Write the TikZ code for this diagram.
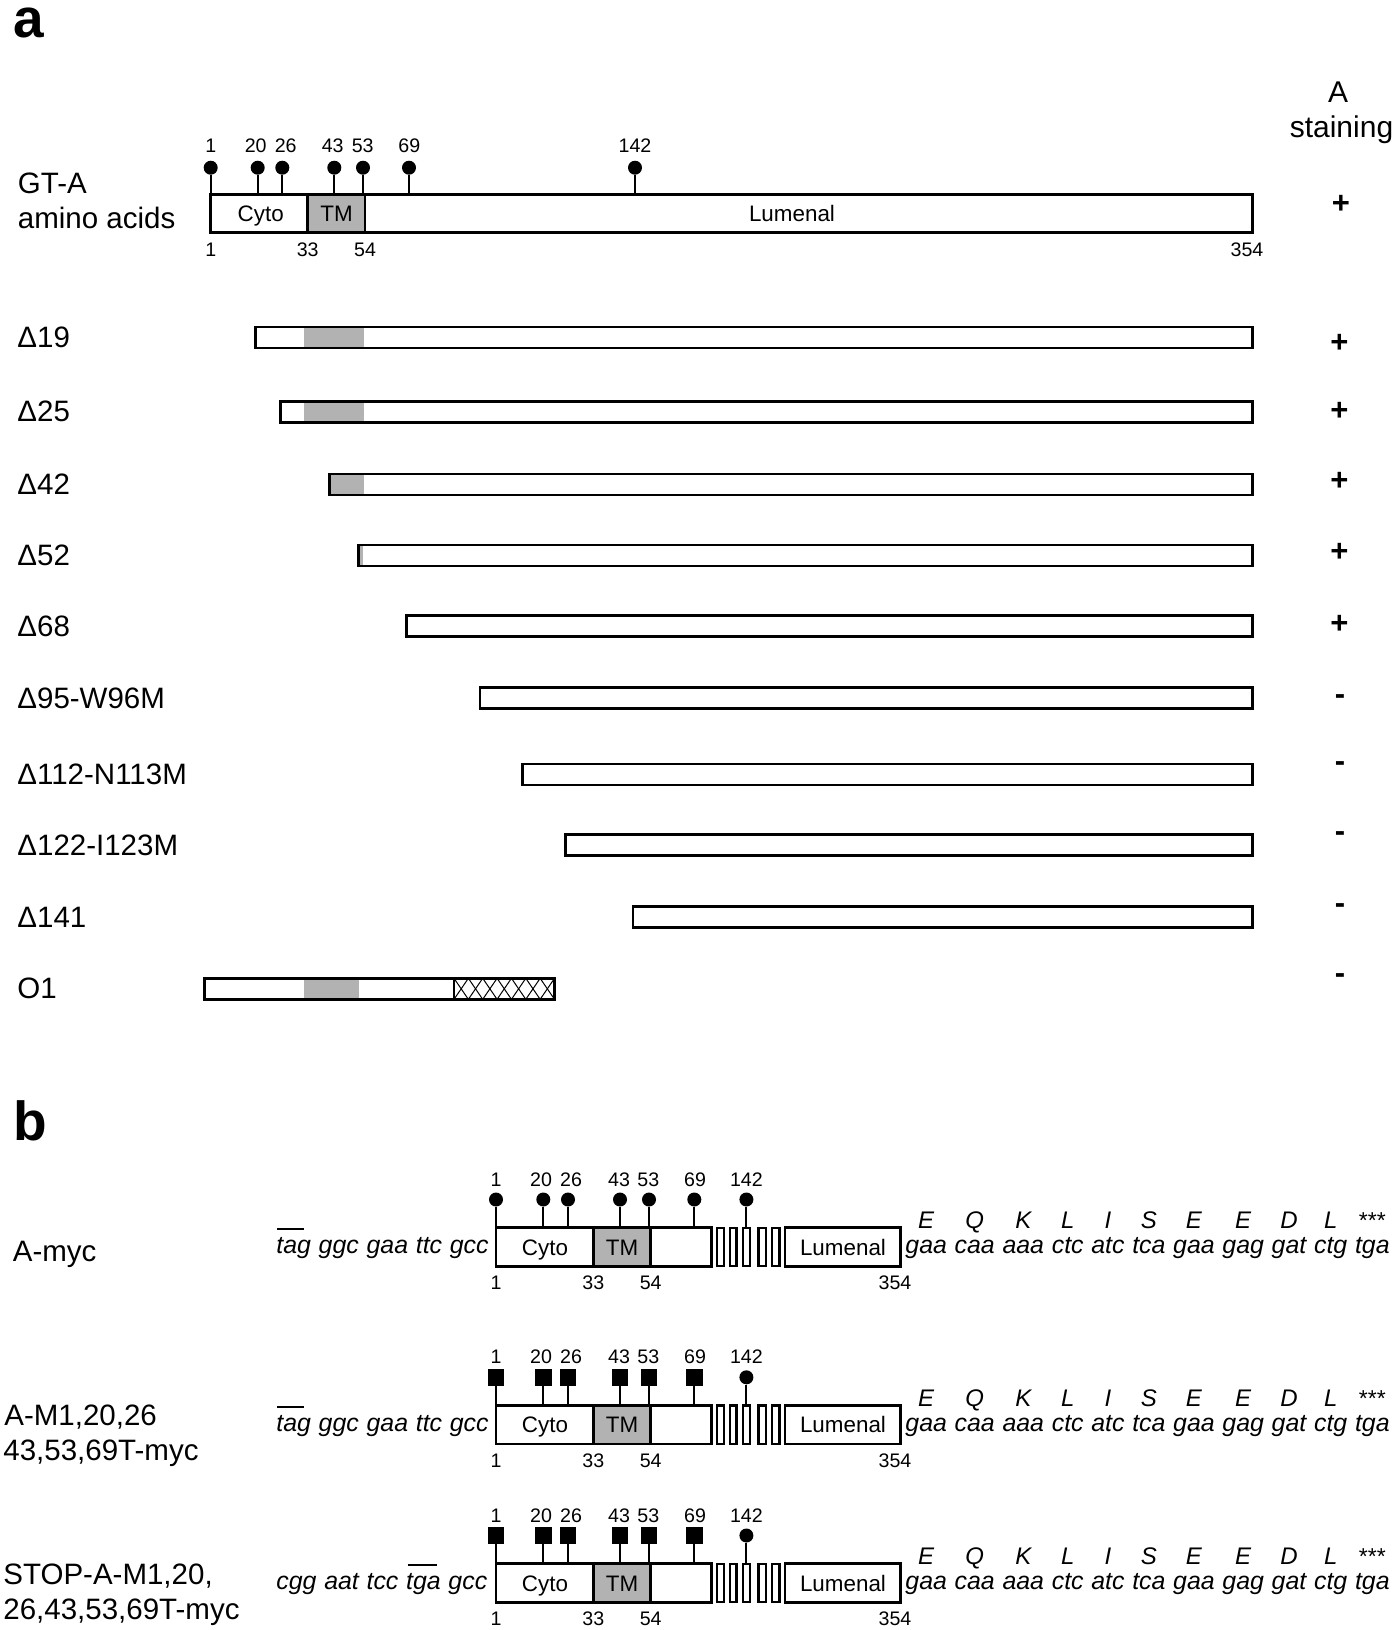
\documentclass[tikz,border=0pt]{standalone}
\usepackage{fontspec}
\setmainfont{Liberation Sans}
\tikzset{
  boxline/.style={draw=black, line width=1.35pt},
  smallbox/.style={draw=black, line width=1.2pt, fill=white},
  dbar/.style={draw=black, line width=1.25pt},
  tmfill/.style={fill=black!30},
  stemline/.style={line width=1pt},
  ball/.style={circle, fill=black, inner sep=0pt, minimum size=7pt},
  sq/.style={rectangle, fill=black, inner sep=0pt, minimum size=8.25pt},
  numlab/.style={inner sep=0pt, anchor=base, font=\fontsize{9.8}{11}\selectfont},
  domlab/.style={inner sep=0pt, anchor=base, font=\fontsize{11.2}{13}\selectfont},
  rowlab/.style={inner sep=0pt, anchor=base west, font=\fontsize{14.75}{17}\selectfont},
  codon/.style={inner sep=0pt, anchor=base west, font=\fontsize{12.45}{15}\selectfont\itshape},
  aalab/.style={inner sep=0pt, anchor=base, font=\fontsize{12}{14}\selectfont\itshape},
  aastop/.style={inner sep=0pt, anchor=base, font=\fontsize{11.5}{13}\selectfont},
  signlab/.style={inner sep=0pt, font=\fontsize{15.5}{17}\selectfont\bfseries},
  panellab/.style={inner sep=0pt, anchor=base west, font=\fontsize{27.5}{30}\selectfont\bfseries},
  ovl/.style={line width=1.3pt},
}
% panel b construct: #1 prefix, #2 centre y, #3 head style
\newcommand{\bConstruct}[3]{%
  \fill[white] (496,#2-19.2) rectangle (711.7,#2+19.2);
  \fill[tmfill] (593.3,#2-19.2) rectangle (650.7,#2+19.2);
  \draw[boxline] (496,#2-19.2) rectangle (711.7,#2+19.2);
  \draw[boxline] (593.3,#2-19.2) -- (593.3,#2+19.2) (650.7,#2-19.2) -- (650.7,#2+19.2);
  \foreach \xa/\xb in {716.8/724, 729.8/736.6, 742.8/750, 758.4/766.2, 771.8/779.6}
    \draw[smallbox] (\xa,#2-19.2) rectangle (\xb,#2+19.2);
  \draw[boxline, fill=white] (785,#2-19.2) rectangle (900.8,#2+19.2);
  \foreach \n/\x/\xt [count=\i] in {1/496/496, 20/543.3/541, 26/568/571, 43/620/619, 53/649/648.3, 69/694.3/695} {
    \node[#3] (#1h\i) at (\x,#2-47.5) {};
    \coordinate (#1b\i) at (\x,#2-19.2);
    \draw[stemline] (#1h\i) -- (#1b\i);
    \node[numlab] (#1t\i) at (\xt,#2-61) {\n};
  }
  \node[ball] (#1h7) at (746.4,#2-47.5) {};
  \coordinate (#1b7) at (746.4,#2-19.2);
  \draw[stemline] (#1h7) -- (#1b7);
  \node[numlab] (#1t7) at (746.4,#2-61) {142};
  \node[domlab] (#1cyto) at (545,#2+8) {Cyto};
  \node[domlab] (#1tm) at (622,#2+8) {TM};
  \node[domlab] (#1lum) at (843,#2+8) {Lumenal};
  \node[numlab] (#1n1) at (496,#2+42.4) {1};
  \node[numlab] (#1n2) at (593.3,#2+42.4) {33};
  \node[numlab] (#1n3) at (650.7,#2+42.4) {54};
  \node[numlab] (#1n4) at (895,#2+42.4) {354};
  % myc tag codons
  \node[codon] (#1c1) at (905,#2+6.6) {gaa};
  \foreach \cod [count=\i from 2, remember=\i as \j (initially 1)] in {caa,aaa,ctc,atc,tca,gaa,gag,gat,ctg,tga}
    \node[codon] (#1c\i) at ([xshift=3.46pt]#1c\j.base east) {\cod};
  \foreach \aa [count=\i] in {E,Q,K,L,I,S,E,E,D,L}
    \node[aalab] (#1a\i) at ([yshift=12.55pt]#1c\i.base) {\aa};
  \node[aastop] (#1a11) at ([yshift=12.55pt]#1c11.base) {***};
}
% left sequence: #1 prefix, #2 centre y, #3..#7 words
\newcommand{\bSeq}[7]{%
  \node[codon] (#1s1) at (276,#2+6.6) {#3};
  \node[codon] (#1s2) at ([xshift=3.46pt]#1s1.base east) {#4};
  \node[codon] (#1s3) at ([xshift=3.46pt]#1s2.base east) {#5};
  \node[codon] (#1s4) at ([xshift=3.46pt]#1s3.base east) {#6};
  \node[codon] (#1s5) at ([xshift=3.46pt]#1s4.base east) {#7};
}
\begin{document}
\begin{tikzpicture}[x=0.5pt, y=-0.5pt]
\useasboundingbox (0,0) rectangle (1395,1630);
\fill[white] (0,0) rectangle (1395,1630);

% ================= panel a =================
\node[panellab] (pa) at (13,37) {a};
\node[inner sep=0pt, anchor=base, font=\fontsize{15}{17}\selectfont] (hA) at (1338,102) {A};
\node[inner sep=0pt, anchor=base, font=\fontsize{15}{17}\selectfont] (hst) at (1341.5,137) {staining};

\node[rowlab] (gta1) at (17.5,193) {GT-A};
\node[rowlab] (gta2) at (17.5,228) {amino acids};

% main bar
\fill[white] (210.7,194.7) rectangle (1252.5,232.7);
\fill[tmfill] (307.7,194.7) rectangle (365,232.7);
\draw[boxline] (210.7,194.7) rectangle (1252.5,232.7);
\draw[boxline] (307.7,194.7) -- (307.7,232.7) (365,194.7) -- (365,232.7);
\foreach \n/\x/\xt [count=\i] in {1/210.7/210.7, 20/257.7/255.7, 26/282.3/285.7, 43/334.3/332.7, 53/363/362.7, 69/409/409.3, 142/635/635} {
  \node[ball] (ah\i) at (\x,167.7) {};
  \coordinate (ab\i) at (\x,194.7);
  \draw[stemline] (ah\i) -- (ab\i);
  \node[numlab] (at\i) at (\xt,152.9) {\n};
}
\node[domlab] (acyto) at (260.7,221.7) {Cyto};
\node[domlab] (atm) at (336.5,221.7) {TM};
\node[domlab] (alum) at (792,221.7) {Lumenal};
\node[numlab] (an1) at (210.7,256.1) {1};
\node[numlab] (an2) at (307.7,256.1) {33};
\node[numlab] (an3) at (365,256.1) {54};
\node[numlab] (an4) at (1247,256.1) {354};
\node[signlab] (s0) at (1341,204) {+};

% deletion bars
\foreach \lab/\yc/\xl [count=\i] in {
  Δ19/337.5/255.4, Δ25/411.8/280.4, Δ42/484.7/329.5, Δ52/555.5/358.5,
  Δ68/626/406.7, Δ95-W96M/698/480, Δ112-N113M/774.7/522.3,
  Δ122-I123M/845/565.6, Δ141/917.2/633} {
  \node[rowlab] (dl\i) at (17,\yc+10) {\lab};
  \fill[white] (\xl,\yc-10.5) rectangle (1252.5,\yc+10.5);
}
\fill[tmfill] (303.6,327) rectangle (363.8,348);
\fill[tmfill] (303.6,401.3) rectangle (363.8,422.3);
\fill[tmfill] (329.5,474.2) rectangle (363.8,495.2);
\fill[tmfill] (358.5,545) rectangle (362.5,566);
\foreach \yc/\xl in {337.5/255.4, 411.8/280.4, 484.7/329.5, 555.5/358.5,
  626/406.7, 698/480, 774.7/522.3, 845/565.6, 917.2/633}
  \draw[dbar] (\xl,\yc-10.5) rectangle (1252.5,\yc+10.5);

% O1
\node[rowlab] (dl10) at (17,998.8) {O1};
\fill[white] (204.5,978.3) rectangle (554.5,999.3);
\fill[tmfill] (303.6,978.3) rectangle (359.4,999.3);
\begin{scope}
  \clip (454,978.3) rectangle (554.5,999.3);
  \foreach \k in {0,...,7} {
    \draw[line width=0.5pt] (454+\k*14.36,978.3) -- (454+\k*14.36+14.36,999.3);
    \draw[line width=0.5pt] (454+\k*14.36+14.36,978.3) -- (454+\k*14.36,999.3);
  }
\end{scope}
\draw[dbar] (204.5,978.3) rectangle (554.5,999.3);
\draw[dbar] (454,978.3) -- (454,999.3);

% staining signs
\foreach \s/\yy [count=\i] in {+/343, +/411.6, +/481.3, +/552, +/624.7}
  \node[signlab] (sp\i) at (1339.5,\yy) {\s};
\foreach \yy [count=\i] in {699.6, 767, 836.8, 908.5, 979}
  \node[signlab] (sm\i) at (1340,\yy) {-};

% ================= panel b =================
\node[panellab] (pb) at (13,1140) {b};

% row 1
\node[rowlab] (r1l) at (12.5,1261) {A-myc};
\bConstruct{ra}{1247}{ball}
\bSeq{ra}{1247}{tag}{ggc}{gaa}{ttc}{gcc}
\draw[ovl] ([xshift=0.5pt,yshift=4pt]ras1.north west) -- ([xshift=-3.5pt,yshift=4pt]ras1.north east);

% row 2
\node[rowlab] (r2l1) at (4,1425) {A-M1,20,26};
\node[rowlab] (r2l2) at (3,1460) {43,53,69T-myc};
\bConstruct{rb}{1424.8}{sq}
\bSeq{rb}{1424.8}{tag}{ggc}{gaa}{ttc}{gcc}
\draw[ovl] ([xshift=0.5pt,yshift=4pt]rbs1.north west) -- ([xshift=-3.5pt,yshift=4pt]rbs1.north east);

% row 3
\node[rowlab] (r3l1) at (3,1584) {STOP-A-M1,20,};
\node[rowlab] (r3l2) at (3,1619) {26,43,53,69T-myc};
\bConstruct{rc}{1583}{sq}
\bSeq{rc}{1583}{cgg}{aat}{tcc}{tga}{gcc}
\draw[ovl] ([xshift=1pt,yshift=4pt]rcs4.north west) -- ([xshift=-2pt,yshift=4pt]rcs4.north east);
\end{tikzpicture}
\end{document}
